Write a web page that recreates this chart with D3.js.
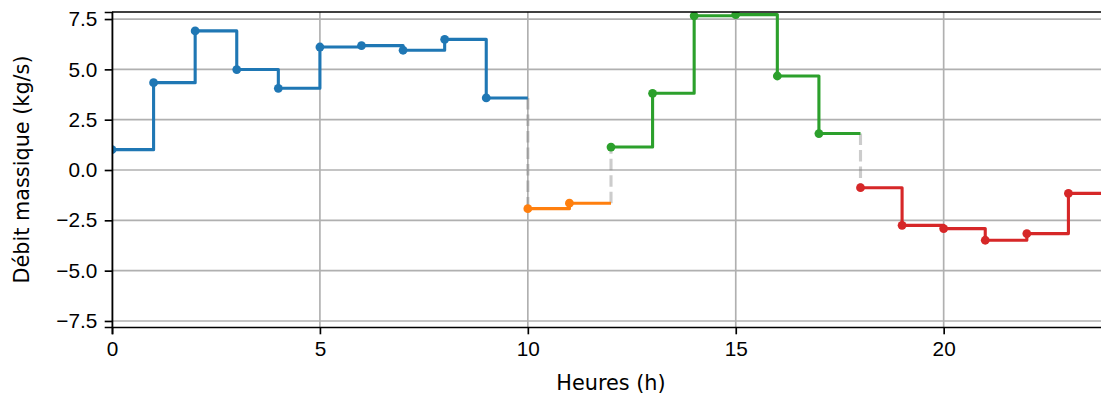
<!DOCTYPE html>
<html>
<head>
<meta charset="utf-8">
<script src="https://cdn.jsdelivr.net/npm/d3@7"></script>
<style>
  body { margin: 0; background: #fff; }
  svg { display: block; font-family: "DejaVu Sans", sans-serif; }
</style>
</head>
<body>
<div id="chart"></div>
<script>
// hourly mass flow, one array per segment (step 'post')
const hoursBlue = [0, 1, 2, 3, 4, 5, 6, 7, 8, 9];
const flowBlue = [1.01, 4.34, 6.91, 4.99, 4.06, 6.11, 6.18, 5.95, 6.49, 3.58];
const hoursOrange = [10, 11];
const flowOrange = [-1.92, -1.65];
const hoursGreen = [12, 13, 14, 15, 16, 17];
const flowGreen = [1.14, 3.81, 7.66, 7.72, 4.67, 1.81];
const hoursRed = [18, 19, 20, 21, 22, 23];
const flowRed = [-0.88, -2.75, -2.91, -3.49, -3.16, -1.16];

const xTicks = [0, 5, 10, 15, 20];
const yTicks = [-7.5, -5.0, -2.5, 0.0, 2.5, 5.0, 7.5];

const W = 1101, H = 396;
const margin = { top: 12, right: -9, bottom: 69, left: 112 };
const fontSize = 20.8;

const svg = d3.select("#chart").append("svg")
  .attr("width", W).attr("height", H);

const x = d3.scaleLinear().domain([0, 24]).range([margin.left, W - margin.right]);
const y = d3.scaleLinear().domain([-7.8, 7.85]).range([H - margin.bottom, margin.top]);

svg.append("clipPath").attr("id", "clip")
  .append("rect")
  .attr("x", margin.left).attr("y", margin.top)
  .attr("width", x(24) - margin.left).attr("height", y(-7.8) - y(7.85));

// grid
const grid = svg.append("g");
grid.selectAll(".gx").data(xTicks).enter().append("line")
  .attr("x1", d => x(d)).attr("x2", d => x(d))
  .attr("y1", y(-7.8)).attr("y2", y(7.85))
  .attr("stroke", "#b0b0b0").attr("stroke-width", 1.67);
grid.selectAll(".gy").data(yTicks).enter().append("line")
  .attr("x1", x(0)).attr("x2", x(24))
  .attr("y1", d => y(d)).attr("y2", d => y(d))
  .attr("stroke", "#b0b0b0").attr("stroke-width", 1.67);

const segments = [
  { hours: hoursBlue, flow: flowBlue, color: "#1f77b4" },
  { hours: hoursOrange, flow: flowOrange, color: "#ff7f0e" },
  { hours: hoursGreen, flow: flowGreen, color: "#2ca02c" },
  { hours: hoursRed, flow: flowRed, color: "#d62728" }
];

const plot = svg.append("g").attr("clip-path", "url(#clip)");

// dashed connectors between segments
for (let i = 0; i < segments.length - 1; i++) {
  const a = segments[i], b = segments[i + 1];
  const xEnd = a.hours[a.hours.length - 1] + 1;
  plot.append("line")
    .attr("x1", x(xEnd)).attr("x2", x(xEnd))
    .attr("y1", y(a.flow[a.flow.length - 1]))
    .attr("y2", y(b.flow[0]))
    .attr("stroke", "gray").attr("stroke-opacity", 0.4)
    .attr("stroke-width", 3.1)
    .attr("stroke-dasharray", "11.5,5");
}

const line = d3.line()
  .x(d => x(d[0])).y(d => y(d[1]))
  .curve(d3.curveStepAfter);

segments.forEach(s => {
  const pts = s.hours.map((h, i) => [h, s.flow[i]]);
  pts.push([s.hours[s.hours.length - 1] + 1, s.flow[s.flow.length - 1]]);
  plot.append("path")
    .attr("d", line(pts))
    .attr("fill", "none")
    .attr("stroke", s.color)
    .attr("stroke-width", 3.1)
    .attr("stroke-linejoin", "round");
  plot.selectAll(null)
    .data(s.hours.map((h, i) => [h, s.flow[i]]))
    .enter().append("circle")
    .attr("cx", d => x(d[0])).attr("cy", d => y(d[1]))
    .attr("r", 4.4)
    .attr("fill", s.color);
});

// axes
const xAxis = svg.append("g")
  .attr("transform", `translate(0,${y(-7.8)})`)
  .call(d3.axisBottom(x).tickValues(xTicks).tickFormat(d3.format("d"))
    .tickSizeOuter(0).tickSize(7.3).tickPadding(7.3));
xAxis.select(".domain").attr("stroke-width", 1.67);
xAxis.selectAll(".tick line").attr("stroke-width", 1.67);
xAxis.selectAll("text").style("font-size", fontSize + "px").attr("fill", "#000");

const yAxis = svg.append("g")
  .attr("transform", `translate(${x(0)},0)`)
  .call(d3.axisLeft(y).tickValues(yTicks)
    .tickFormat(d => d3.format(".1f")(d).replace("-", "\u2212"))
    .tickSizeOuter(0).tickSize(7.3).tickPadding(7.3));
yAxis.select(".domain").attr("stroke-width", 1.67);
yAxis.selectAll(".tick line").attr("stroke-width", 1.67);
yAxis.selectAll("text").style("font-size", fontSize + "px").attr("fill", "#000");

// top spine
svg.append("line")
  .attr("x1", x(0)).attr("x2", x(24))
  .attr("y1", y(7.85)).attr("y2", y(7.85))
  .attr("stroke", "#000").attr("stroke-width", 1.67);

// labels
svg.append("text")
  .attr("x", (x(0) + x(24)) / 2).attr("y", 390)
  .attr("text-anchor", "middle")
  .style("font-size", fontSize + "px")
  .text("Heures (h)");

svg.append("text")
  .attr("transform", `translate(29,${(y(-7.8) + y(7.85)) / 2}) rotate(-90)`)
  .attr("text-anchor", "middle")
  .style("font-size", fontSize + "px")
  .text("Débit massique (kg/s)");
</script>
</body>
</html>
